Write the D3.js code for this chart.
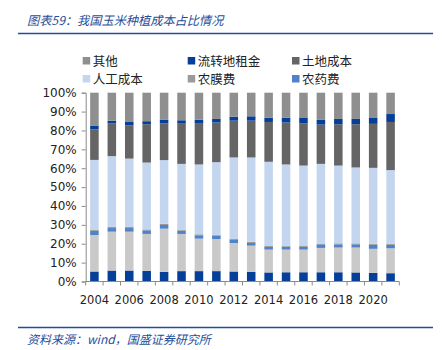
<!DOCTYPE html>
<html>
<head>
<meta charset="utf-8">
<script src="https://cdn.jsdelivr.net/npm/d3@7"></script>
<style>
  body { margin: 0; background: #fff; }
  svg text { font-family: "DejaVu Sans", Verdana, sans-serif; }
  .cjk { font-family: "Noto Sans CJK SC", sans-serif; }
</style>
</head>
<body>
<svg id="chart" width="442" height="350"></svg>
<script>
// years on the x axis
const years = d3.range(2004, 2022);
const tickYears = [2004, 2006, 2008, 2010, 2012, 2014, 2016, 2018, 2020];

// shares in %, bottom to top of each bar
const seed = [5.3,5.8,5.8,5.6,5.1,5.5,5.5,5.5,5.3,5.1,4.8,4.9,4.9,4.9,4.9,4.8,4.6,4.4];
const fertilizer = [19.3,20.6,20.6,19.6,22.9,19.7,17.2,17.0,15.1,13.9,12.1,12.0,12.0,12.9,13.1,13.2,12.7,13.2];
const pesticide = [2.2,1.9,1.9,1.9,1.9,1.7,1.8,1.8,1.6,1.4,1.4,1.6,1.4,1.9,1.7,1.7,2.1,1.8];
const film = [0.5,0.6,0.6,0.5,0.7,0.6,0.5,0.5,0.5,0.6,0.5,0.5,0.5,0.4,0.5,0.5,0.5,0.5];
const labor = [37.1,37.5,36.2,35.4,33.7,34.8,37.0,38.4,43.2,44.7,44.6,43.0,42.6,42.2,41.2,40.2,40.3,39.1];
const land = [16.2,17.4,17.6,20.3,19.5,21.3,21.6,21.0,19.5,19.5,21.1,22.2,22.4,20.8,21.9,22.9,23.3,25.5];
const rent = [1.8,1.4,1.8,1.6,1.8,1.8,2.1,1.9,2.1,2.3,2.3,2.6,2.8,2.5,2.8,2.8,3.1,4.2];
const other = [17.6,14.8,15.5,15.1,14.4,14.6,14.3,13.9,12.7,12.5,13.2,13.2,13.4,14.4,13.9,13.9,13.4,11.3];

// series in stacking order
const series = [
  {key:'种子费', values:seed, color:'#063f99'},
  {key:'化肥费', values:fertilizer, color:'#c9c9c9'},
  {key:'农药费', values:pesticide, color:'#4f82c8'},
  {key:'农膜费', values:film, color:'#9a9a9a'},
  {key:'人工成本', values:labor, color:'#c4d6ef'},
  {key:'土地成本', values:land, color:'#656565'},
  {key:'流转地租金', values:rent, color:'#063f99'},
  {key:'其他', values:other, color:'#8f8f8f'}
];
// legend order as in the picture
const legendOrder = ['其他','流转地租金','土地成本','人工成本','农膜费','农药费'];

const svg = d3.select('#chart');
const blue = '#1f4e9a';

// header
svg.append('text')
  .attr('class', 'cjk')
  .attr('x', 27).attr('y', 25)
  .attr('font-size', 12.2)
  .attr('font-style', 'italic')
  .attr('fill', blue)
  .text('图表59：我国玉米种植成本占比情况');
svg.append('line')
  .attr('x1', 18).attr('x2', 433)
  .attr('y1', 33.5).attr('y2', 33.5)
  .attr('stroke', blue).attr('stroke-width', 1.5);

// footer
svg.append('line')
  .attr('x1', 18).attr('x2', 433)
  .attr('y1', 327.5).attr('y2', 327.5)
  .attr('stroke', blue).attr('stroke-width', 1.5);
svg.append('text')
  .attr('class', 'cjk')
  .attr('x', 27).attr('y', 344)
  .attr('font-size', 12)
  .attr('font-style', 'italic')
  .attr('fill', blue)
  .text('资料来源：wind，国盛证券研究所');

// plot area
const margin = {t:92.7, r:42.7, b:68.5, l:85.7};
const w = 442 - margin.l - margin.r;
const h = 350 - margin.t - margin.b;
const plot = svg.append('g')
  .attr('transform', `translate(${margin.l},${margin.t})`);

const scaleX = d3.scaleBand()
  .domain(years)
  .range([0, w])
  .paddingInner(0.51)
  .paddingOuter(0.255);
const scaleY = d3.scaleLinear()
  .domain([0, 100])
  .range([h, 0]);

// stack data
const rows = years.map((y, i) => {
  const r = {year:y};
  series.forEach(s => { r[s.key] = s.values[i]; });
  return r;
});
const stacked = d3.stack().keys(series.map(s => s.key))(rows);

plot.selectAll('.layer')
  .data(stacked)
  .join('g')
  .attr('class', 'layer')
  .attr('fill', (d, i) => series[i].color)
  .selectAll('rect')
  .data(d => d)
  .join('rect')
  .attr('x', d => scaleX(d.data.year))
  .attr('width', scaleX.bandwidth())
  .attr('y', d => scaleY(d[1]))
  .attr('height', d => scaleY(d[0]) - scaleY(d[1]));

// y axis
const yAxis = d3.axisLeft(scaleY)
  .ticks(10)
  .tickFormat(d => d + '%')
  .tickSize(4)
  .tickPadding(5);
const gy = plot.append('g').call(yAxis);
gy.selectAll('path, line').attr('stroke', '#8a8a8a');
gy.selectAll('text').attr('font-size', 12).attr('fill', '#222');

// x axis: ticks at category boundaries, labels every other year
const step = scaleX.step();
const gx = plot.append('g').attr('transform', `translate(0,${h})`);
gx.append('line')
  .attr('x1', 0).attr('x2', w)
  .attr('stroke', '#8a8a8a');
gx.selectAll('.xt')
  .data(d3.range(years.length + 1))
  .join('line')
  .attr('class', 'xt')
  .attr('x1', i => i * step).attr('x2', i => i * step)
  .attr('y1', 0).attr('y2', 4)
  .attr('stroke', '#8a8a8a');
gx.selectAll('.xl')
  .data(tickYears)
  .join('text')
  .attr('class', 'xl')
  .attr('x', d => scaleX(d) + scaleX.bandwidth() / 2)
  .attr('y', 22)
  .attr('text-anchor', 'middle')
  .attr('font-size', 11.5)
  .attr('fill', '#222')
  .text(d => d);

// legend
const legendX = [82.7, 187.7, 292];
const legendY = [61, 79];
const legend = svg.append('g')
  .selectAll('g')
  .data(legendOrder)
  .join('g')
  .attr('transform', (d, i) => `translate(${legendX[i % 3]},${legendY[Math.floor(i / 3)]})`);
legend.append('rect')
  .attr('x', 0).attr('y', -4)
  .attr('width', 7.5).attr('height', 7.5)
  .attr('fill', d => series.find(s => s.key === d).color);
legend.append('text')
  .attr('class', 'cjk')
  .attr('x', 10).attr('y', 4.5)
  .attr('font-size', 12.5)
  .attr('fill', '#222')
  .text(d => d);
</script>
</body>
</html>
